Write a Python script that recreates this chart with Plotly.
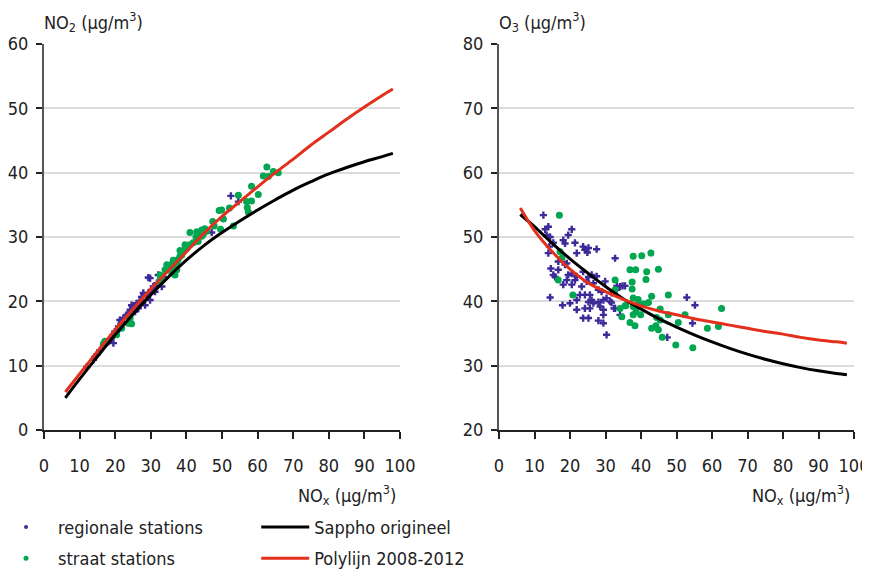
import plotly.graph_objects as go

# ---------------- data ----------------
# Left panel: NO2 vs NOx
reg_l_nox = [12.0, 13.9, 14.3, 14.8, 15.7, 16.7, 18.1, 19.0, 19.5, 19.9, 20.9, 21.3, 22.3, 23.2, 24.2, 24.6,
             25.1, 26.0, 26.5, 27.0, 27.4, 27.9, 28.8, 29.8, 29.8, 30.3, 30.7, 31.2, 31.7, 32.6, 33.1, 33.5,
             18.5, 19.5, 20.4, 21.8, 23.7, 25.6, 27.4, 28.4, 29.3, 29.3, 32.1, 31.2, 47.1, 52.5, 54.6]
reg_l_no2 = [9.8, 10.9, 11.4, 11.7, 12.4, 13.2, 13.7, 14.3, 14.8, 15.3, 16.1, 17.1, 17.4, 17.9, 18.7, 19.4,
             19.2, 19.7, 18.9, 20.0, 20.7, 21.3, 20.7, 20.2, 23.6, 21.8, 22.3, 21.5, 22.8, 23.3, 22.3, 23.8,
             14.0, 13.5, 15.3, 16.8, 18.1, 18.4, 20.2, 19.4, 21.3, 23.7, 24.1, 22.3, 30.7, 36.4, 35.5]

str_l_nox = [16.7, 17.1, 20.4, 21.8, 23.7, 24.2, 24.6, 32.6, 32.4, 33.0, 34.5, 35.4, 37.3, 36.8, 36.3, 35.9,
             36.3, 36.8, 37.3, 37.7, 38.2, 38.7, 39.1, 39.6, 40.1, 41.0, 41.9, 43.3, 44.7, 44.3, 42.7, 41.0,
             42.9, 43.8, 45.7, 44.3, 45.2, 47.8, 47.4, 53.2, 49.6, 50.4, 49.9, 49.2, 52.1, 57.4, 57.1, 58.3,
             56.9, 54.6, 60.2, 58.3, 65.8, 64.4, 63.0, 61.6, 62.6, 38.2, 39.6, 34.0, 35.0, 36.0]
str_l_no2 = [13.4, 13.8, 14.8, 15.8, 16.6, 17.4, 16.5, 24.1, 23.1, 23.8, 25.7, 25.1, 24.9, 24.1, 26.4, 24.4,
             24.9, 25.4, 25.9, 26.5, 27.0, 27.2, 27.7, 28.0, 28.2, 28.8, 29.1, 29.3, 30.4, 30.1, 30.0, 30.7,
             30.8, 30.5, 30.9, 31.1, 31.3, 31.7, 32.4, 31.7, 31.2, 32.8, 34.2, 34.1, 34.5, 33.9, 34.6, 35.6,
             35.5, 36.5, 36.6, 37.9, 40.0, 40.2, 39.4, 39.5, 40.9, 27.9, 28.8, 24.9, 25.5, 25.8]

curve_nox = [6, 10, 15, 20, 25, 30, 35, 40, 45, 50, 55, 60, 65, 70, 75, 80, 85, 90, 95, 98]
sappho_no2 = [5.0, 7.9, 11.4, 14.8, 18.0, 21.0, 23.8, 26.4, 28.7, 30.7, 32.5, 34.2, 35.8, 37.3, 38.6, 39.8,
              40.8, 41.7, 42.5, 43.0]
poly_no2 = [5.9, 8.7, 12.2, 15.6, 18.8, 21.9, 24.8, 27.7, 30.6, 33.2, 35.5, 37.8, 40.0, 42.1, 44.3, 46.3,
            48.3, 50.2, 52.0, 53.0]

# Right panel: O3 vs NOx
reg_r_nox = [12.5, 13.9, 13.0, 13.4, 14.4, 20.5, 19.5, 18.1, 18.6, 15.3, 14.2, 13.9, 21.4, 21.9, 23.7, 24.2,
             25.2, 24.9, 27.5, 32.7, 19.1, 18.6, 16.7, 14.6, 16.7, 15.3, 15.8, 19.5, 20.5, 19.1, 21.4, 21.9,
             23.7, 25.2, 26.1, 27.5, 24.7, 26.6, 29.9, 18.1, 20.5, 23.3, 28.0, 28.9, 14.4, 22.8, 24.2, 25.6,
             26.1, 25.2, 26.6, 28.0, 29.4, 30.3, 31.3, 28.5, 25.6, 29.4, 21.9, 20.0, 17.9, 21.9, 24.2, 32.7,
             23.7, 25.2, 28.0, 29.4, 29.4, 30.3, 34.1, 35.5, 33.1, 33.2, 34.8, 31.7, 31.7, 32.4, 34.1, 52.9,
             55.2, 54.5, 47.4]
reg_r_o3 = [53.4, 51.6, 51.2, 50.3, 50.0, 51.2, 50.3, 49.5, 49.0, 49.1, 48.5, 47.5, 49.1, 47.5, 48.5, 48.0,
            48.3, 47.6, 48.1, 46.7, 45.9, 45.7, 46.2, 45.1, 44.9, 44.1, 43.8, 44.1, 44.3, 43.3, 43.3, 43.9,
            44.6, 43.8, 44.1, 43.9, 43.1, 42.8, 43.1, 42.6, 42.6, 42.3, 41.8, 41.5, 40.6, 41.0, 41.0, 41.0,
            40.2, 39.9, 39.7, 39.9, 40.2, 40.5, 40.0, 39.2, 38.9, 38.7, 40.2, 39.7, 39.4, 38.7, 38.9, 38.9,
            37.4, 37.4, 37.0, 36.6, 37.9, 34.8, 42.3, 42.4, 41.8, 42.4, 42.4, 41.3, 39.8, 38.9, 37.9, 40.6,
            39.4, 36.6, 34.4]

str_r_nox = [17.0, 17.2, 17.7, 16.7, 20.8, 32.7, 32.7, 34.1, 34.6, 35.7, 36.9, 36.9, 37.8, 40.2, 42.8, 38.5,
             41.6, 44.9, 41.4, 37.5, 37.5, 43.0, 37.8, 39.2, 47.7, 42.1, 40.7, 39.2, 37.8, 35.5, 45.4, 62.7,
             38.6, 37.8, 39.9, 44.4, 45.4, 47.7, 50.5, 52.4, 38.3, 43.0, 44.9, 44.2, 58.7, 61.8, 46.0, 49.8,
             54.6]
str_r_o3 = [53.4, 47.7, 46.7, 43.3, 41.0, 43.3, 41.8, 38.9, 37.6, 39.3, 44.9, 36.7, 47.0, 47.1, 47.5, 44.9,
            44.6, 45.0, 43.4, 43.0, 41.9, 40.8, 40.5, 40.3, 41.0, 39.8, 39.6, 39.4, 39.2, 39.3, 38.8, 38.9,
            38.4, 37.9, 37.9, 37.5, 37.1, 37.9, 36.7, 37.9, 36.2, 35.8, 35.6, 36.2, 35.8, 36.1, 34.4, 33.2,
            32.8]

sappho_o3 = [53.5, 51.6, 49.0, 46.6, 44.4, 42.3, 40.4, 38.8, 37.3, 36.0, 34.8, 33.7, 32.7, 31.8, 31.0, 30.3,
             29.7, 29.2, 28.8, 28.6]
poly_o3 = [54.5, 51.0, 47.7, 45.0, 42.9, 41.5, 40.3, 39.3, 38.5, 37.9, 37.3, 36.8, 36.3, 35.8, 35.3, 34.9,
           34.4, 34.0, 33.7, 33.5]

x_ticks = [0, 10, 20, 30, 40, 50, 60, 70, 80, 90, 100]

# ---------------- style ----------------
PURPLE = "#3c2b98"
GREEN = "#00a650"
RED = "#e3301d"
BLACK = "#000000"
FONT = "DejaVu Sans Condensed, Open Sans, sans-serif"
FS = 18

fig = go.Figure()

def scat(x, y, xa, ya, color, symbol, size):
    fig.add_trace(go.Scatter(x=x, y=y, xaxis=xa, yaxis=ya, mode="markers", showlegend=False,
                             marker=dict(color=color, symbol=symbol, size=size, line=dict(width=0)),
                             hoverinfo="x+y"))

def curve(x, y, xa, ya, color):
    fig.add_trace(go.Scatter(x=x, y=y, xaxis=xa, yaxis=ya, mode="lines", showlegend=False,
                             line=dict(color=color, width=3, shape="spline"), hoverinfo="x+y"))

# left panel
scat(reg_l_nox, reg_l_no2, "x", "y", PURPLE, "cross", 6)
scat(str_l_nox, str_l_no2, "x", "y", GREEN, "circle", 7)
curve(curve_nox, sappho_no2, "x", "y", BLACK)
curve(curve_nox, poly_no2, "x", "y", RED)
# right panel
scat(reg_r_nox, reg_r_o3, "x2", "y2", PURPLE, "cross", 6)
scat(str_r_nox, str_r_o3, "x2", "y2", GREEN, "circle", 7)
curve(curve_nox, sappho_o3, "x2", "y2", BLACK)
curve(curve_nox, poly_o3, "x2", "y2", RED)

# legend proxies
fig.add_trace(go.Scatter(x=[None], y=[None], mode="markers", name="regionale stations",
                         marker=dict(color=PURPLE, size=4), legend="legend", legendgroup="a"))
fig.add_trace(go.Scatter(x=[None], y=[None], mode="markers", name="straat stations",
                         marker=dict(color=GREEN, size=5), legend="legend", legendgroup="b"))
fig.add_trace(go.Scatter(x=[None], y=[None], mode="lines", name="Sappho origineel",
                         line=dict(color=BLACK, width=3), legend="legend2", legendgroup="c"))
fig.add_trace(go.Scatter(x=[None], y=[None], mode="lines", name="Polylijn 2008-2012",
                         line=dict(color=RED, width=3), legend="legend2", legendgroup="d"))

def xaxis(domain, anchor):
    return dict(domain=domain, anchor=anchor, range=[0, 100], tickvals=x_ticks, showgrid=False,
                zeroline=False, showline=True, linecolor="#222", linewidth=1.5, automargin=False,
                ticks="outside", ticklen=7, tickcolor="#222", tickwidth=1.5,
                ticklabelstandoff=12, tickfont=dict(size=FS, color="#222", family=FONT))

def yaxis(rng, anchor):
    return dict(domain=[0, 1], anchor=anchor, range=rng, dtick=10, showgrid=True, gridcolor="#dcdcdc",
                gridwidth=1.5, zeroline=False, showline=True, linecolor="#555", linewidth=2,
                automargin=False, ticks="outside", ticklen=6, tickcolor="#222", tickwidth=1.5,
                ticklabelstandoff=4, tickfont=dict(size=FS, color="#222", family=FONT))

# the page body adds an 8px offset, so the figure is 8px smaller than the window
W = 810.0
fig.update_layout(
    width=862, height=564,
    margin=dict(l=36, r=16, t=36, b=142, autoexpand=False),
    paper_bgcolor="white", plot_bgcolor="white",
    font=dict(family=FONT, size=FS, color="#222"),
    xaxis=xaxis([0, (400 - 44) / W], "y"),
    yaxis=yaxis([0, 60], "x"),
    xaxis2=xaxis([(499 - 44) / W, 1], "y2"),
    yaxis2=yaxis([20, 80], "x2"),
    legend=dict(x=-0.0617, y=-0.204, xanchor="left", yanchor="top", orientation="v",
                traceorder="grouped", tracegroupgap=5, itemwidth=54,
                font=dict(size=FS, family=FONT, color="#222"), bgcolor="rgba(0,0,0,0)"),
    legend2=dict(x=0.262, y=-0.204, xanchor="left", yanchor="top", orientation="v",
                 traceorder="grouped", tracegroupgap=5, itemwidth=48,
                 font=dict(size=FS, family=FONT, color="#222"), bgcolor="rgba(0,0,0,0)"),
    showlegend=True,
    annotations=[
        dict(text="NO<sub>2</sub> (µg/m<sup>3</sup>)", xref="paper", yref="paper", x=-0.002, y=1.018,
             xanchor="left", yanchor="bottom", showarrow=False, font=dict(size=FS)),
        dict(text="O<sub>3</sub> (µg/m<sup>3</sup>)", xref="paper", yref="paper", x=(497 - 44) / W, y=1.018,
             xanchor="left", yanchor="bottom", showarrow=False, font=dict(size=FS)),
        dict(text="NO<sub>x</sub> (µg/m<sup>3</sup>)", xref="paper", yref="paper", x=(398 - 44) / W, y=-0.13,
             xanchor="right", yanchor="top", showarrow=False, font=dict(size=FS)),
        dict(text="NO<sub>x</sub> (µg/m<sup>3</sup>)", xref="paper", yref="paper", x=(852 - 44) / W, y=-0.13,
             xanchor="right", yanchor="top", showarrow=False, font=dict(size=FS)),
    ],
)

fig.write_html("out.html")
